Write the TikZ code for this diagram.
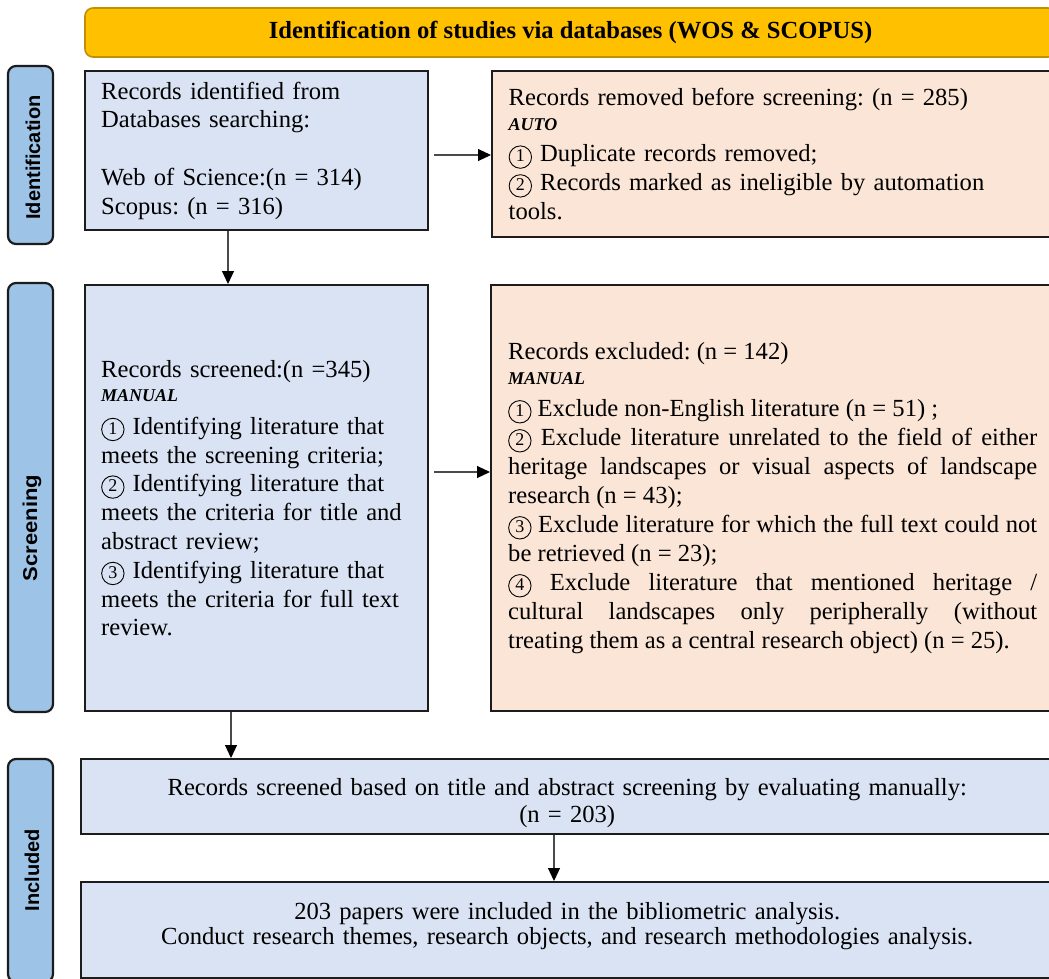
\documentclass[tikz,border=0pt]{standalone}
\usepackage{fontspec}
\setmainfont{Liberation Serif}
\setsansfont{Liberation Sans}
\usetikzlibrary{arrows.meta}

\definecolor{gold}{HTML}{FFC000}
\definecolor{goldline}{HTML}{BF9000}
\definecolor{bluefill}{HTML}{DAE3F3}
\definecolor{pinkfill}{HTML}{FBE5D6}
\definecolor{tabfill}{HTML}{9DC3E6}
\definecolor{edge}{HTML}{1C1C1C}
\definecolor{flowgray}{HTML}{4A4A4A}

\setlength\parindent{0pt}
\tolerance=9999
\hyphenpenalty=10000
\frenchspacing

% type sizes
\newcommand\bodyfont{\fontsize{24.6}{28.8}\selectfont}
\newcommand\tagtext[1]{{\fontsize{18}{20}\selectfont\bfseries\itshape #1}}
% tighter word spacing for a crowded line
\newcommand\tight[1]{{\spaceskip=3pt plus 2pt minus 0.5pt #1}}

% circled step numbers, drawn with the basic layer
\newcommand\mkcirc[1]{\begin{pgfpicture}%
  \pgfsetlinewidth{0.9pt}%
  \pgfpathcircle{\pgfpoint{0pt}{4.8pt}}{11.2pt}\pgfusepath{stroke}%
  \pgftext[base]{\fontsize{18}{18}\selectfont #1}%
  \pgfsetbaseline{0pt}%
  \end{pgfpicture}}
\newsavebox\cboxa \newsavebox\cboxb \newsavebox\cboxc \newsavebox\cboxd
\newcommand\cnum[1]{\usebox{\csname cbox#1\endcsname}}

\begin{document}
\sbox\cboxa{\mkcirc{1}}\sbox\cboxb{\mkcirc{2}}\sbox\cboxc{\mkcirc{3}}\sbox\cboxd{\mkcirc{4}}%
\begin{tikzpicture}[x=1pt,y=-1pt,
  box/.style={draw=edge, line width=2.4pt, inner xsep=16pt, inner ysep=0pt,
    anchor=north west, font=\bodyfont},
  bluebox/.style={box, fill=bluefill},
  pinkbox/.style={box, fill=pinkfill},
  header/.style={fill=gold, draw=goldline, line width=1.6pt, rounded corners=8pt,
    minimum width=971pt, minimum height=49pt,
    font=\fontsize{24.6}{28}\selectfont\bfseries},
  tab/.style={draw=edge, line width=2.2pt, fill=tabfill, rounded corners=8pt,
    minimum height=45pt, rotate=90},
  tablabel/.style={rotate=90, font=\sffamily\bfseries\fontsize{20}{22}\selectfont},
  flow/.style={draw=flowgray, line width=1.1pt,
    -{Triangle[length=13pt,width=12pt,color=black]}}
]
\path[use as bounding box] (0,0) rectangle (1049,978);
\clip (0,0) rectangle (1049,978);
\fill[white] (0,0) rectangle (1049,978);

% banner
\node[header] (head) at (570.5,32.5) {Identification of studies via databases (WOS \& SCOPUS)};

% stage tabs
\node[tab, minimum width=178pt] (tabid) at (30.5,155) {};
\node[tab, minimum width=429pt] (tabsc) at (30.5,497.5) {};
\node[tab, minimum width=223pt] (tabin) at (30.5,870.5) {};
\node[tablabel] (lbid) at (33,157.5) {Identification};
\node[tablabel] (lbsc) at (32,528) {\scalebox{1.1}[1]{Screening}};
\node[tablabel] (lbin) at (32,870) {Included};

% identification
\node[bluebox, text width=311pt, align=left, minimum width=343pt, minimum height=159pt]
  (A) at (84,70)
  {Records identified from\\ Databases searching:\\[28.8pt]
   Web of Science:(n = 314)\\ Scopus: (n = 316)};
\node[pinkbox, text width=529pt, align=left, minimum width=562pt, minimum height=166pt]
  (B) at (491,70)
  {Records removed before screening: (n = 285)\\[-3.8pt]
   \tagtext{AUTO}\\[2.2pt]
   \cnum a\ Duplicate records removed;\\
   \cnum b\ Records marked as ineligible by automation\\
   tools.};

% screening
\node[bluebox, text width=311pt, align=left, minimum width=343pt, minimum height=426pt]
  (C) at (84,284)
  {Records screened:(n =345)\\[-4.8pt]
   \tagtext{MANUAL}\\[4.2pt]
   \cnum a\ Identifying literature that\\
   meets the screening criteria;\\
   \cnum b\ Identifying literature that\\
   meets the criteria for title and\\
   abstract review;\\
   \cnum c\ Identifying literature that\\
   meets the criteria for full text\\
   review.};
\node[pinkbox, text width=529pt, align=justify, minimum width=563pt, minimum height=426pt,
  font=\fontsize{24.6}{29}\selectfont]
  (D) at (490,284)
  {Records excluded: (n = 142)\\[-4pt]
   \tagtext{MANUAL}\\[3pt]
   \cnum a\ Exclude non-English literature (n = 51)~;\\
   \cnum b\ Exclude literature unrelated to the field of either\linebreak
   heritage landscapes or visual aspects of landscape\linebreak
   research (n = 43);\\
   \tight{\cnum c\ Exclude literature for which the full text could not}\linebreak
   be retrieved (n = 23);\\
   \cnum d\ Exclude literature that mentioned heritage /\linebreak
   cultural landscapes only peripherally (without\linebreak
   treating them as a central research object) (n = 25).};

% included
\node[bluebox, text width=940pt, align=center, minimum width=972pt, minimum height=75pt,
  font=\fontsize{24.6}{27}\selectfont]
  (E) at (80,758)
  {\rule{0pt}{29pt}Records screened based on title and abstract screening by evaluating manually:\\
   (n = 203)};
\node[bluebox, text width=940pt, align=center, minimum width=972pt, minimum height=96pt,
  font=\fontsize{24.6}{25}\selectfont]
  (F) at (80,881)
  {203 papers were included in the bibliometric analysis.\\
   Conduct research themes, research objects, and research methodologies analysis.\rule[-13pt]{0pt}{0pt}};

% connectors
\draw[flow, shorten <=5pt] (A.east |- 0,155) -- (B.west |- 0,155);
\draw[flow] (A.south -| 228,0) -- (C.north -| 228,0);
\draw[flow, shorten <=5pt] (C.east |- 0,472) -- (D.west |- 0,472);
\draw[flow] (C.south -| 231,0) -- (E.north -| 231,0);
\draw[flow] (E.south -| 554,0) -- (F.north -| 554,0);
\end{tikzpicture}
\end{document}
